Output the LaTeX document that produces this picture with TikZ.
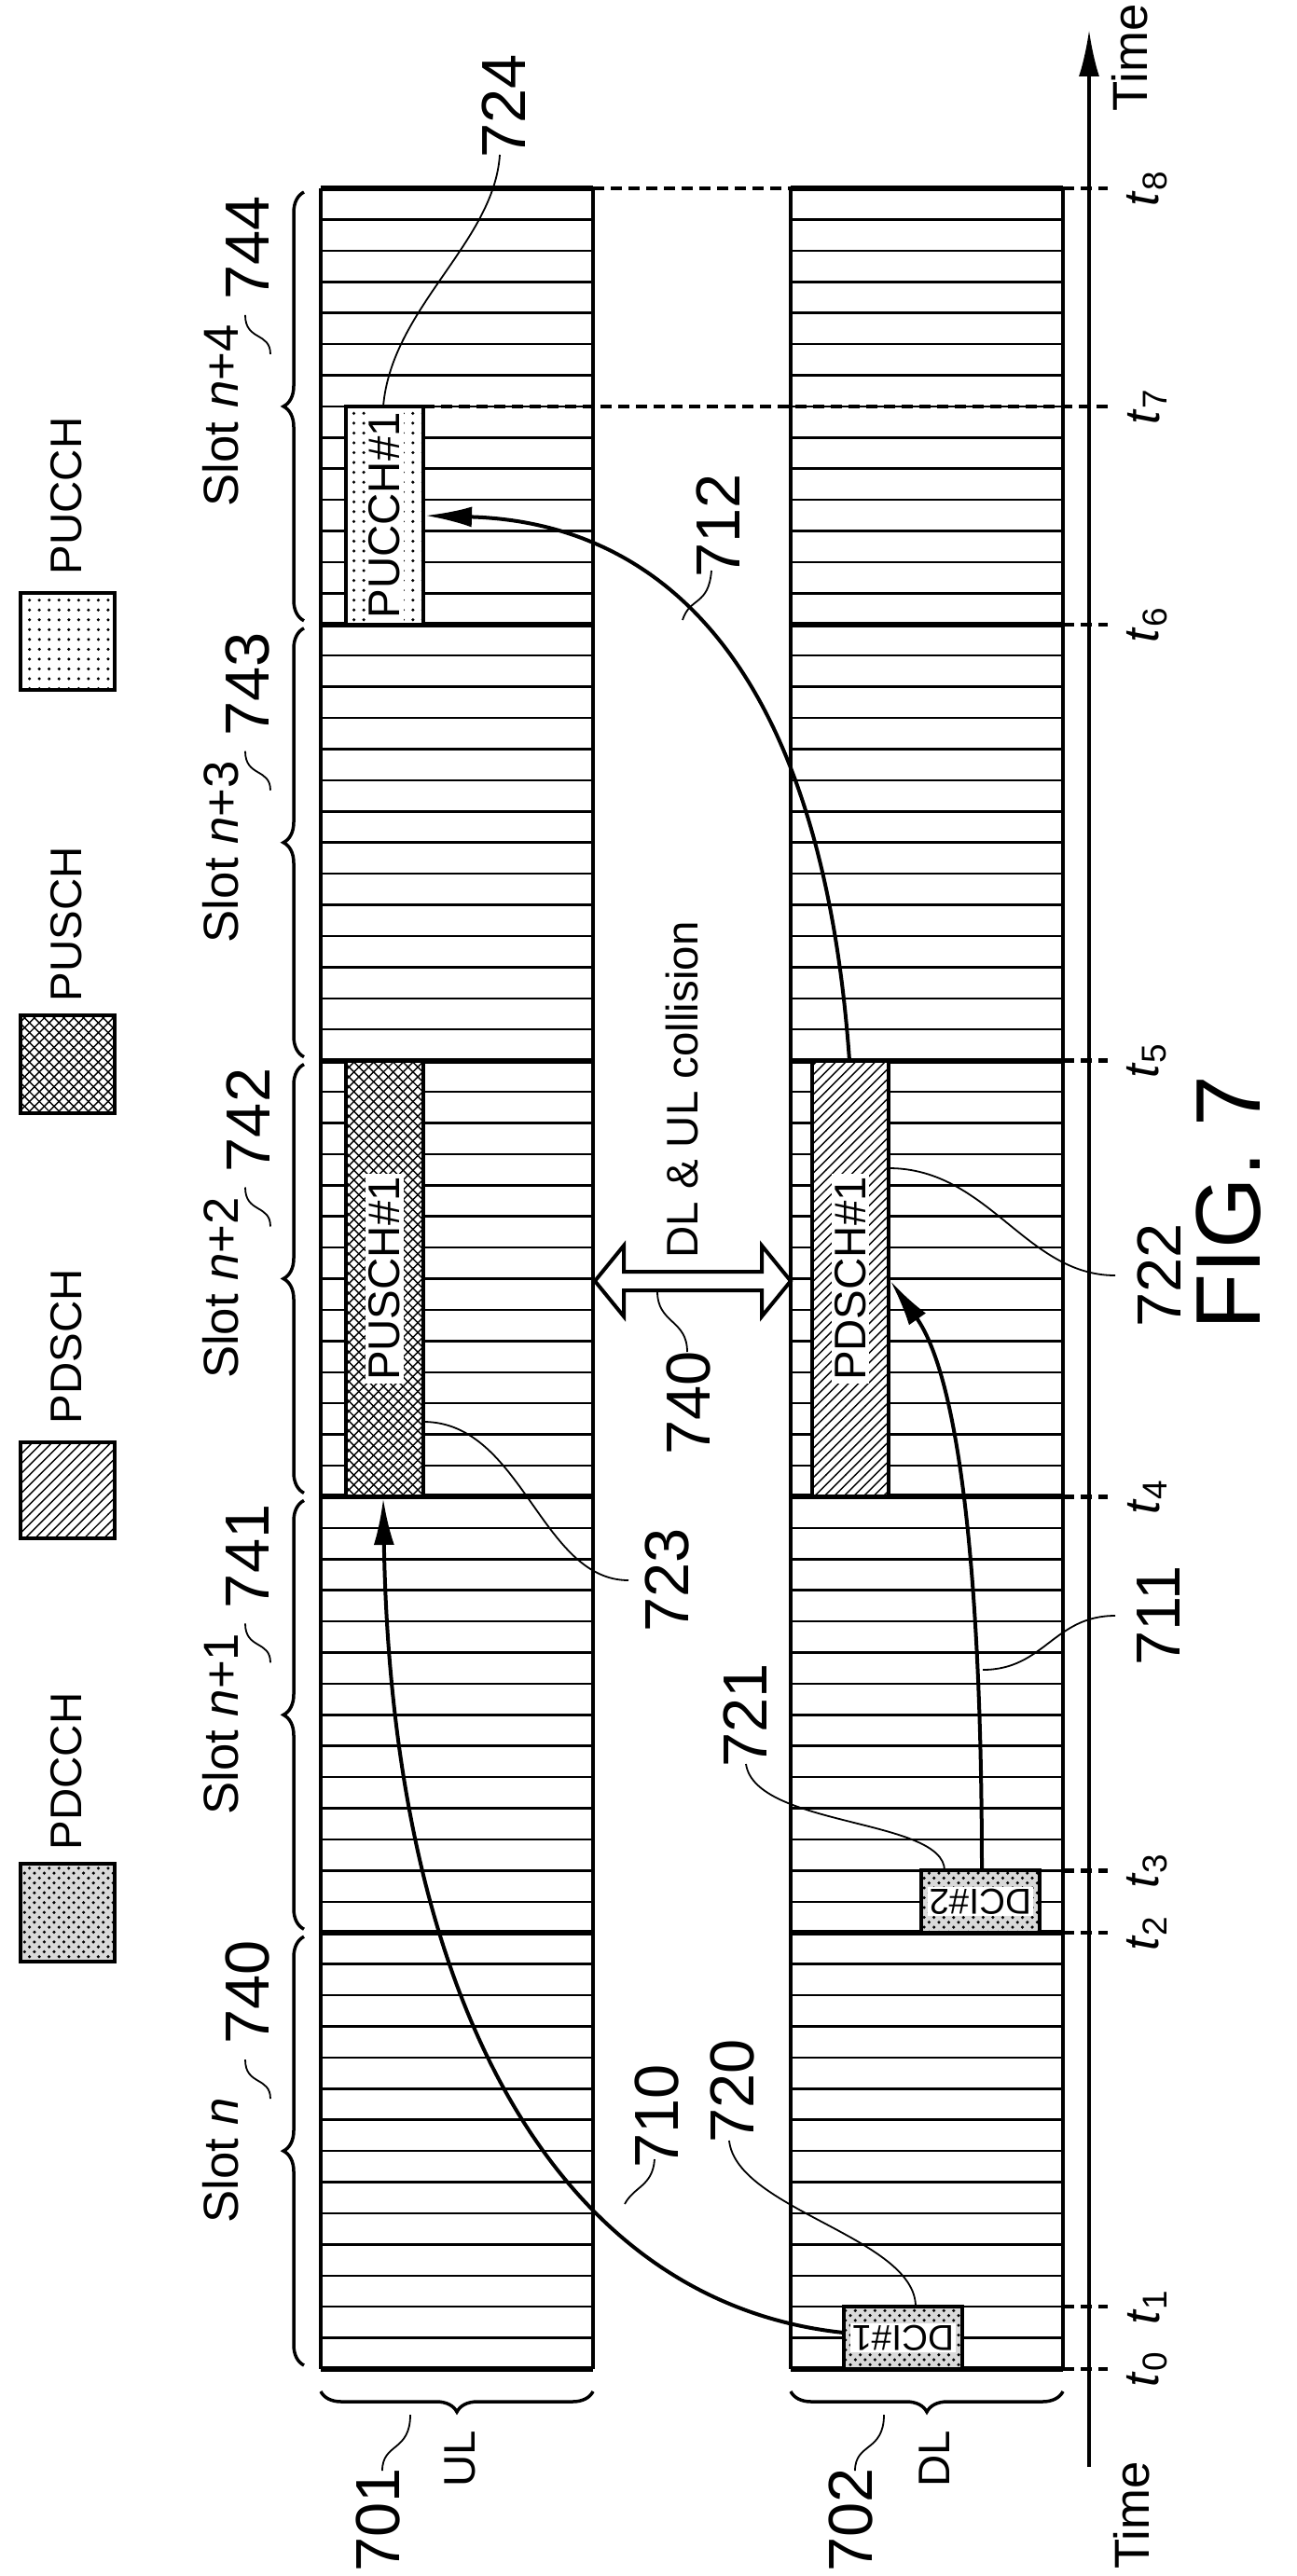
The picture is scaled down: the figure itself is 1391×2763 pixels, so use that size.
\documentclass[tikz,border=0pt]{standalone}
\usepackage{fontspec}
\setmainfont{Liberation Sans}
\usetikzlibrary{arrows.meta,patterns,decorations.pathreplacing,calc}

\tikzset{
  grid line/.style={line width=0.25mm},
  slot line/.style={line width=0.6mm},
  edge line/.style={line width=0.35mm},
  tick line/.style={line width=0.45mm,dash pattern=on 1.2mm off 0.7mm},
  flow/.style={line width=0.4mm,-{Latex[length=5mm,width=2.2mm]}},
  leader/.style={line width=0.18mm},
  block/.style={line width=0.4mm},
  brc/.style={line width=0.35mm,decorate,decoration={brace,amplitude=2.2mm}},
  num/.style={rotate=90,font=\fontsize{19}{19}\selectfont},
  slotlbl/.style={rotate=90,font=\fontsize{15}{15}\selectfont},
  txt/.style={rotate=90,font=\fontsize{13.5}{13.5}\selectfont},
  tlbl/.style={rotate=90,font=\fontsize{15}{15}\selectfont},
}

\begin{document}
\begin{tikzpicture}[x=0.1mm,y=-0.1mm]
\useasboundingbox (0,0) rectangle (1391,2763);
\def\tz{2541}
\def\sl{467.8}
\def\sy{33.414}

% symbol grids, UL and DL
\foreach \xa/\xb in {344/636,848/1140}{
  \foreach \k in {0,...,70}
    \draw[grid line] (\xa,{\tz-\k*\sy}) -- (\xb,{\tz-\k*\sy});
  \foreach \k in {0,...,5}
    \draw[slot line] (\xa,{\tz-\k*\sl}) -- (\xb,{\tz-\k*\sl});
  \draw[edge line] (\xa,202) -- (\xa,\tz) (\xb,202) -- (\xb,\tz);
}

% time axis
\coordinate (axis0) at (1168,2646);
\coordinate (axis1) at (1168,32);
\draw[line width=0.35mm,-{Latex[length=5mm,width=2.2mm]}] (axis0) -- (axis1);
\node[tlbl] (time0) at (1214,2698) {Time};
\node[tlbl] (time1) at (1212,62) {Time};

% time marks
\foreach \i/\y in {0/2541,1/2474.2,2/2073.2,3/2006.4,4/1605.4,5/1137.6,6/669.8,8/202}{
  \draw[tick line] (1140,\y) -- (1188,\y);
  \node[tlbl] (t\i) at (1230,\y) {\textit{t}\textsubscript{\i}};
}
\draw[tick line] (454,435.9) -- (1188,435.9);
\node[tlbl] (t7) at (1230,435.9) {\textit{t}\textsubscript{7}};
\draw[tick line] (636,202) -- (848,202);

% blocks
\draw[block,fill=white,postaction={pattern=dots}] (371,435.9) rectangle (454,669.8);
\node[txt,fill=white,inner sep=1pt] (pucch) at (412.5,552.9) {PUCCH\#1};
\draw[block,fill=white,postaction={pattern=north east lines},postaction={pattern=north west lines}] (371,1137.6) rectangle (454,1605.4);
\node[txt,fill=white,inner sep=1pt] (pusch) at (412.5,1371.5) {PUSCH\#1};
\draw[block,fill=white,postaction={pattern=north east lines}] (871,1137.6) rectangle (953,1605.4);
\node[txt,fill=white,inner sep=1pt] (pdsch) at (912,1371.5) {PDSCH\#1};
\draw[block,fill=gray!30,postaction={pattern=crosshatch dots}] (905,2474.2) rectangle (1032,2541);
\node[rotate=180,fill=white,inner sep=0.5pt,font=\fontsize{11}{11}\selectfont] (dci1) at (968.5,2507.6) {DCI\#1};
\draw[block,fill=gray!30,postaction={pattern=crosshatch dots}] (988,2006.4) rectangle (1115,2073.2);
\node[rotate=180,fill=white,inner sep=0.5pt,font=\fontsize{11}{11}\selectfont] (dci2) at (1051.5,2039.8) {DCI\#2};

% legend
\draw[block,fill=white,postaction={pattern=dots}] (22,636) rectangle (123,740);
\node[txt] (lgpucch) at (71,532) {PUCCH};
\draw[block,fill=white,postaction={pattern=north east lines},postaction={pattern=north west lines}] (22,1089) rectangle (123,1194);
\node[txt] (lgpusch) at (71,991) {PUSCH};
\draw[block,fill=white,postaction={pattern=north east lines}] (22,1547) rectangle (123,1650);
\node[txt] (lgpdsch) at (71,1444) {PDSCH};
\draw[block,fill=gray!30,postaction={pattern=crosshatch dots}] (22,1999) rectangle (123,2104);
\node[txt] (lgpdcch) at (71,1900) {PDCCH};

% slot braces and names
\foreach \i/\nm/\lab in {0/{\textit{n}}/740,1/{\textit{n}+1}/741,2/{\textit{n}+2}/742,3/{\textit{n}+3}/743,4/{\textit{n}+4}/744}{
  \pgfmathsetmacro\c{\tz-(\i+0.5)*\sl}
  \draw[brc] (326,{\tz-\i*\sl-4}) -- (326,{\tz-(\i+1)*\sl+4});
  \node[slotlbl] (slot\i) at (237,\c+10) {Slot \nm};
  \node[num] (slotnum\i) at (266,\c-170) {\lab};
  \draw[leader] (290,\c-56) .. controls (290,\c-80) and (263,\c-70) .. (263,\c-98);
}

% UL / DL braces
\draw[brc] (636,2565) -- (344,2565);
\draw[brc] (1140,2565) -- (848,2565);
\node[txt] (ul) at (493,2637) {UL};
\node[txt] (dl) at (1002,2637) {DL};
\node[num] (n701) at (406,2703) {701};
\node[num] (n702) at (913,2703) {702};
\draw[leader] (440,2590) .. controls (440,2630) and (410,2620) .. (410,2650);
\draw[leader] (948,2590) .. controls (948,2630) and (917,2620) .. (917,2650);

% collision arrow
\draw[line width=0.4mm,fill=white] (638,1374) -- (669,1336) -- (669,1364) -- (817,1364) -- (817,1336)
  -- (848,1374) -- (817,1412) -- (817,1384) -- (669,1384) -- (669,1412) -- cycle;
\node[txt] (collision) at (732,1169) {DL \& UL collision};
\node[num] (n740) at (739,1505) {740};
\draw[leader] (705,1385) .. controls (705,1420) and (737,1415) .. (737,1450);

% scheduling arrows
\coordinate (dcia) at (905,2502);
\coordinate (puscha) at (411,1607);
\draw[flow] (dcia) .. controls (600,2470) and (420,2150) .. (puscha);
\coordinate (dcib) at (1053,2006.4);
\coordinate (pdscha) at (955,1374);
\draw[flow] (dcib) .. controls (1053,1700) and (1030,1480) .. (pdscha);
\coordinate (pdschb) at (911,1137.6);
\coordinate (puccha) at (456,553);
\draw[flow] (pdschb) .. controls (880,700) and (700,560) .. (puccha);

% reference numerals
\node[num] (n710) at (705,2270) {710};
\draw[leader] (670,2364) .. controls (680,2345) and (700,2345) .. (702,2316);
\node[num] (n720) at (786,2243) {720};
\draw[leader] (982,2474.2) .. controls (982,2400) and (790,2370) .. (782,2296);
\node[num] (n721) at (799,1840) {721};
\draw[leader] (800,1892) .. controls (810,1960) and (1013,1950) .. (1013,2006.4);
\node[num] (n711) at (1243,1733) {711};
\draw[leader] (1054,1791) .. controls (1120,1791) and (1130,1733) .. (1196,1733);
\node[num] (n722) at (1243,1368) {722};
\draw[leader] (953,1253) .. controls (1060,1253) and (1100,1368) .. (1196,1368);
\node[num] (n723) at (716,1695) {723};
\draw[leader] (454,1525) .. controls (560,1525) and (580,1695) .. (674,1695);
\node[num] (n712) at (770,564) {712};
\draw[leader] (732,665) .. controls (740,640) and (760,650) .. (763,612);
\node[num] (n724) at (540,114) {724};
\draw[leader] (411,435.9) .. controls (420,330) and (530,260) .. (536,166);

\node[rotate=90,font=\fontsize{28}{28}\selectfont] (fig) at (1318,1290) {FIG. 7};
\end{tikzpicture}
\end{document}
